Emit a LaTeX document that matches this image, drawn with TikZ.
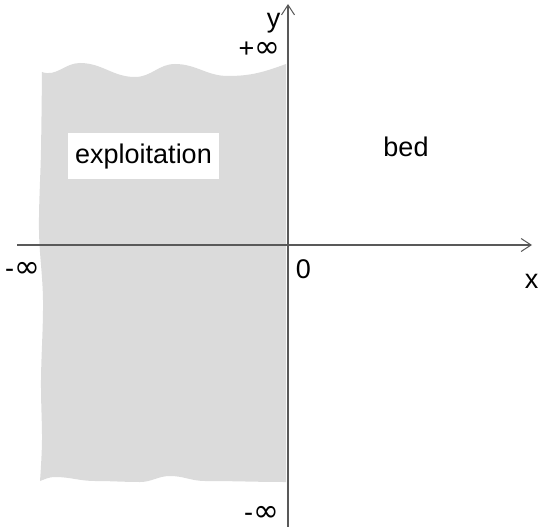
\documentclass[tikz,border=0pt]{standalone}
\usepackage{fontspec}
\setmainfont{Liberation Sans}
\newfontfamily\symfont{DejaVu Sans}
\usetikzlibrary{arrows.meta}
\definecolor{regiongray}{rgb}{0.86,0.86,0.86}
\definecolor{axisgray}{rgb}{0.35,0.35,0.35}
\newcommand{\infsym}{{\symfont\fontsize{31}{34}\selectfont ∞}}
\tikzset{
  lbl/.style={inner sep=0pt, anchor=base, font=\fontsize{27}{30}\selectfont},
  axisline/.style={draw=axisgray, line width=1.3pt, -{Straight Barb[length=10pt,width=13pt,line width=1pt]}},
}
\begin{document}
\begin{tikzpicture}[x=1pt,y=-1pt]
\useasboundingbox (0,0) rectangle (544,527);
% shaded region
\fill[regiongray] (42,72) to[out=-20,in=180] (80,63) to[out=0,in=180] (135,77)
  to[out=0,in=180] (175,64) to[out=0,in=180] (228,76) to[out=0,in=200] (286,64)
  -- (286,482) to[out=180,in=0] (205,481) to[out=180,in=0] (170,476) to[out=180,in=0] (140,482)
  to[out=180,in=0] (95,481) to[out=180,in=0] (55,477) to[out=180,in=20] (40,481)
  -- plot[smooth, tension=0.6] coordinates {(40,481) (42,440) (41,380) (43,300) (39,230) (41,150) (42,72)} -- cycle;
% label box
\node[fill=white, minimum width=151pt, minimum height=46pt, inner sep=0pt] (expbox) at (143.5,156) {};
\node[lbl] (expl) at (143.5,163) {exploitation};
\node[lbl] (bed) at (406,157) {bed};
% axes
\coordinate (xs) at (17,245);
\coordinate (xe) at (532,245);
\coordinate (ys) at (288,527);
\coordinate (ye) at (288,4);
\draw[axisline] (xs) -- (xe);
\draw[axisline] (ys) -- (ye);
% axis labels
\node[lbl] (ylab) at (273.5,28) {y};
\node[lbl] (xlab) at (531.5,288) {x};
\node[lbl] (zero) at (303.5,278) {0};
\node[lbl] (pinf) at (259.5,58) {+\infsym};
\node[lbl] (minfl) at (22.5,277) {-\infsym};
\node[lbl] (minfb) at (261.5,521) {-\infsym};
\end{tikzpicture}
\end{document}
